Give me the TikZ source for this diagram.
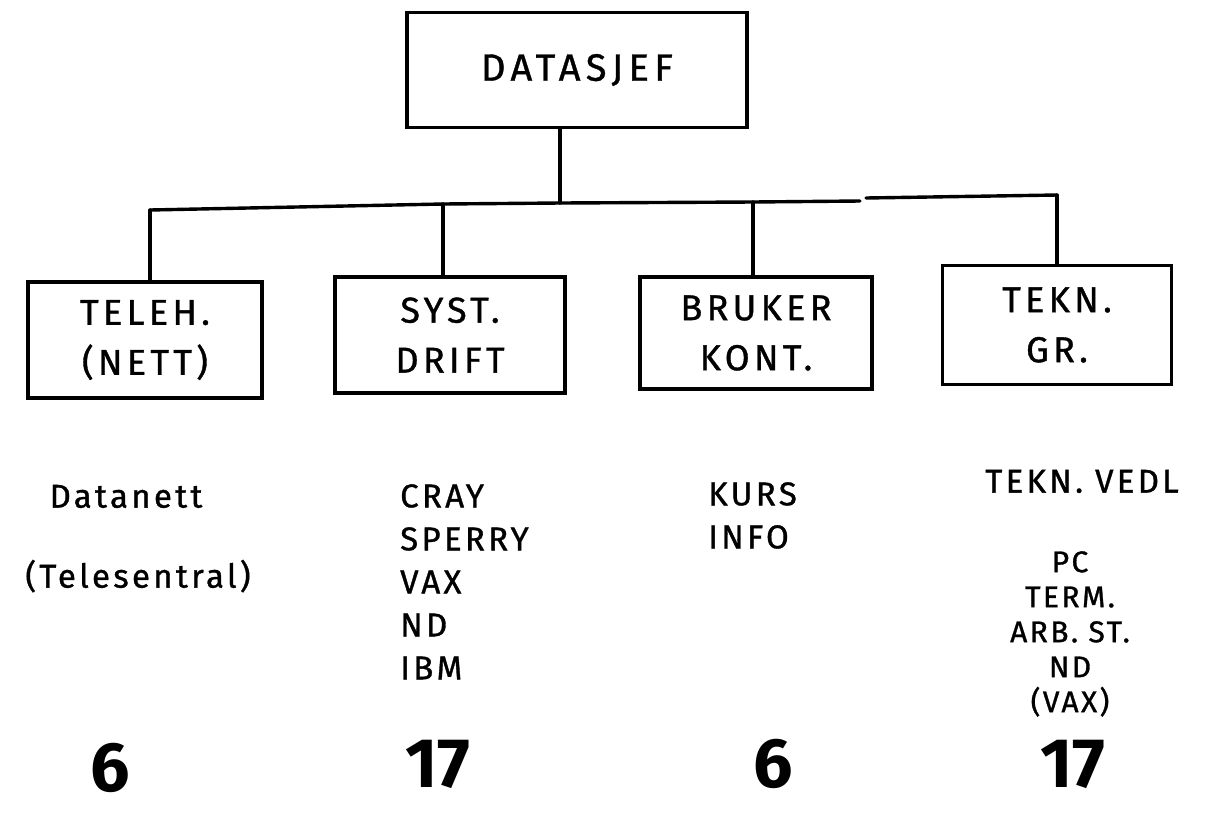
\documentclass[tikz,border=0pt]{standalone}
\usepackage{fontspec}
\setmainfont{Fira Sans}
\newcommand\orgboxfont{\fontsize{36}{50}\selectfont\addfontfeatures{LetterSpace=12,FakeBold=1}}
\newcommand\orgtopfont{\fontsize{38}{50}\selectfont\addfontfeatures{LetterSpace=14,FakeBold=1}}
\newcommand\orglistfont{\fontsize{33}{43}\selectfont\addfontfeatures{LetterSpace=10,FakeBold=1}}
\newcommand\orgnumfont{\fontsize{70}{80}\selectfont\bfseries}
\begin{document}
\begin{tikzpicture}[x=1pt,y=-1pt]
\tikzset{
  orgbox/.style={draw, line width=3.6pt, inner sep=0pt, align=center, font=\orgboxfont},
  wire/.style={line width=3.4pt, line cap=round, line join=round},
  listtext/.style={inner sep=0pt, font=\orglistfont},
  countnum/.style={inner sep=0pt, font=\orgnumfont},
}
\useasboundingbox (0,0) rectangle (1210,815);
\fill[white] (0,0) rectangle (1210,815);

% boxes
\node[orgbox, font=\orgtopfont, minimum width=340pt, minimum height=115pt] (chief) at (577,70) {DATASJEF};
\node[orgbox, minimum width=234pt, minimum height=116pt] (tele) at (145,340) {TELEH.\\(NETT)};
\node[orgbox, minimum width=230pt, minimum height=116pt] (syst) at (450,335) {SYST.\\DRIFT};
\node[orgbox, minimum width=232pt, minimum height=112pt] (bruk) at (756,333) {BRUKER\\KONT.};
\node[orgbox, minimum width=229pt, minimum height=119pt] (tekn) at (1057,325) {TEKN.\\GR.};

% bus
\coordinate (j1) at (150,210);
\coordinate (j2) at (443,204);
\coordinate (jc) at (560,203);
\coordinate (j3) at (753,202);
\coordinate (gapL) at (860,201);
\coordinate (gapR) at (866,198);
\coordinate (j4) at (1057,195);
\draw[wire] (j1) -- (j2) -- (jc) -- (j3) -- (gapL);
\draw[wire] (gapR) -- (j4);
\draw[wire] (chief.south -| jc) -- (jc);
\draw[wire] (j1) -- (j1 |- tele.north);
\draw[wire] (j2) -- (j2 |- syst.north);
\draw[wire] (j3) -- (j3 |- bruk.north);
\draw[wire] (j4) -- (j4 |- tekn.north);

% lists
\node[listtext, anchor=mid] (l1a) at (126,505) {Datanett};
\node[listtext, anchor=mid] (l1b) at (138,585) {(Telesentral)};
\node[listtext, align=left, anchor=north west] (l2) at (400,484) {CRAY\\SPERRY\\VAX\\ND\\IBM};
\node[listtext, align=left, anchor=north west] (l3) at (708,482) {KURS\\INFO};
\node[listtext, anchor=mid] (l4a) at (1082,490) {TEKN. VEDL};
\node[listtext, align=center, anchor=north, font=\fontsize{30}{35}\selectfont\addfontfeatures{LetterSpace=8,FakeBold=1}] (l4b) at (1070,551) {PC\\TERM.\\ARB. ST.\\ND\\(VAX)};

% counts
\node[countnum] (n1) at (110,768) {6};
\node[countnum] (n2) at (438,764) {17};
\node[countnum] (n3) at (773,764) {6};
\node[countnum] (n4) at (1073,764) {17};
\end{tikzpicture}
\end{document}
